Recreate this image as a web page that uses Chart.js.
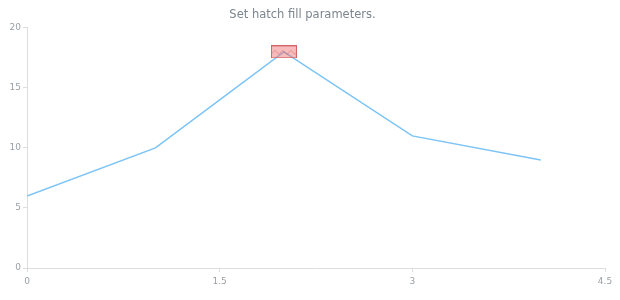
<!DOCTYPE html>
<html>
<head>
<meta charset="utf-8">
<script src="https://cdn.jsdelivr.net/npm/chart.js@4/dist/chart.umd.min.js"></script>
<style>
  html, body { margin: 0; padding: 0; background: #fff; }
  #wrap { width: 620px; height: 300px; }
</style>
</head>
<body>
<div id="wrap"><canvas id="hatchChart"></canvas></div>
<script>
const xValues = [0, 1, 2, 3, 4];
const yValues = [6, 10, 18, 11, 9];
const markerIndex = 2; // the point with the hatched marker
const xTicks = [0, 1.5, 3, 4.5];

// hatched rectangle marker
function makeMarker() {
    const c = document.createElement('canvas');
    c.width = 26;
    c.height = 13;
    const g = c.getContext('2d');
    g.fillStyle = 'rgba(238, 120, 120, 0.5)';
    g.fillRect(0, 0, 26, 13);
    g.strokeStyle = 'rgba(205, 90, 90, 0.45)';
    g.lineWidth = 1;
    // short zig-zag dashes
    for (let i = 0; i < 26; i += 8) {
        g.beginPath();
        g.moveTo(i, 9);
        g.lineTo(i + 4, 5);
        g.lineTo(i + 8, 9);
        g.stroke();
    }
    g.strokeStyle = 'rgba(210, 90, 90, 0.9)';
    g.strokeRect(0.5, 0.5, 25, 12);
    return c;
}
const marker = makeMarker();

const ctx = document.getElementById('hatchChart').getContext('2d');

const tickFont = { size: 9, family: 'DejaVu Sans' };
const tickColor = '#9aa0a6';

new Chart(ctx, {
    type: 'line',
    data: {
        datasets: [{
            data: xValues.map((x, i) => ({ x: x, y: yValues[i] })),
            borderColor: '#7cc3f6',
            borderWidth: 1.5,
            tension: 0,
            pointStyle: marker,
            pointRadius: yValues.map((v, i) => i === markerIndex ? 10 : 0),
            pointHoverRadius: 0
        }]
    },
    options: {
        responsive: true,
        maintainAspectRatio: false,
        animation: false,
        layout: { padding: { left: 0, right: 15, top: 0, bottom: 0 } },
        plugins: {
            legend: { display: false },
            tooltip: { enabled: false },
            title: {
                display: true,
                text: 'Set hatch fill parameters.',
                font: { size: 11.5, family: 'DejaVu Sans', weight: 'normal' },
                color: '#7c868e',
                padding: { top: 8, bottom: 6 }
            }
        },
        scales: {
            x: {
                type: 'linear',
                min: 0,
                max: 4.5,
                afterBuildTicks: s => { s.ticks = xTicks.map(v => ({ value: v })); },
                afterFit: s => { s.height = 32; },
                grid: { display: true, drawOnChartArea: false, tickLength: 4, color: '#dddddd' },
                border: { color: '#dddddd' },
                ticks: { font: tickFont, color: tickColor, padding: 4, maxRotation: 0 }
            },
            y: {
                min: 0,
                max: 20,
                afterFit: s => { s.width = 27; },
                grid: { display: true, drawOnChartArea: false, tickLength: 4, color: '#dddddd' },
                border: { color: '#dddddd' },
                ticks: { stepSize: 5, font: tickFont, color: tickColor, padding: 2 }
            }
        }
    }
});
</script>
</body>
</html>
